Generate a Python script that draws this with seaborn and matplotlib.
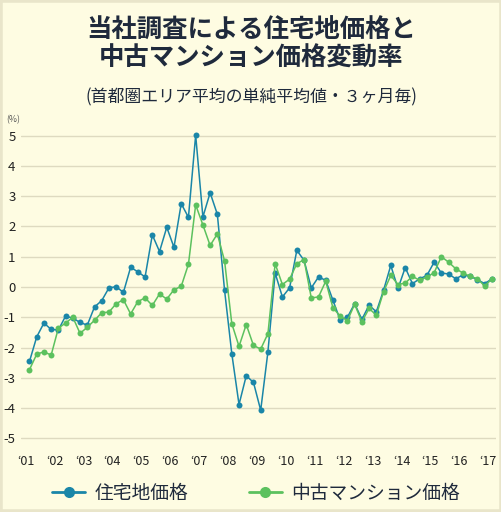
import pandas as pd
import numpy as np
import seaborn as sns
import matplotlib.pyplot as plt
from matplotlib.patches import Rectangle

# --------------------------- DATA ---------------------------
quarters = pd.period_range('2001Q1', '2017Q1', freq='Q')

land_price = [
    -2.46, -1.65, -1.19, -1.40, -1.42, -0.96, -1.03, -1.17, -1.26, -0.66,
    -0.45, -0.03, 0.01, -0.18, 0.65, 0.50, 0.33, 1.72, 1.17, 1.97,
    1.31, 2.75, 2.30, 5.01, 2.31, 3.11, 2.40, -0.11, -2.20, -3.88,
    -2.93, -3.15, -4.07, -2.14, 0.46, -0.33, -0.03, 1.21, 0.88, -0.03,
    0.33, 0.22, -0.44, -1.09, -1.00, -0.55, -1.07, -0.60, -0.82, -0.11,
    0.71, -0.05, 0.64, 0.11, 0.27, 0.38, 0.82, 0.46, 0.43, 0.27,
    0.40, 0.35, 0.24, 0.11, 0.27,
]
condo_price = [
    -2.73, -2.22, -2.14, -2.25, -1.36, -1.19, -1.00, -1.53, -1.33, -1.10,
    -0.85, -0.83, -0.55, -0.42, -0.89, -0.48, -0.36, -0.61, -0.23, -0.40,
    -0.09, 0.02, 0.75, 2.71, 2.05, 1.37, 1.75, 0.86, -1.21, -1.96,
    -1.24, -1.93, -2.05, -1.54, 0.77, 0.08, 0.26, 0.77, 0.90, -0.36,
    -0.33, 0.19, -0.69, -0.96, -1.11, -0.57, -1.15, -0.71, -0.93, -0.16,
    0.38, 0.08, 0.13, 0.35, 0.22, 0.33, 0.47, 1.00, 0.82, 0.60,
    0.46, 0.35, 0.27, 0.03, 0.27,
]
series_names = ['住宅地価格', '中古マンション価格']
tick_years = list(range(2001, 2018))
tick_labels = ['‘%02d' % (y % 100) for y in tick_years]
y_ticks = [5, 4, 3, 2, 1, 0, -1, -2, -3, -4, -5]

# --------------------------- SETTINGS ---------------------------
sns.set_theme(style='white')
plt.rcParams['font.family'] = ['Noto Sans CJK JP', 'DejaVu Sans']
bg = '#FEFCE2'
colors = ['#1A86A8', '#5CC15E']
text_dark = '#1F2A3C'
label_nudge = 0.13  # year labels sit a little left of the first quarter

df = pd.DataFrame({
    'x': [q.year + (q.quarter - 1) / 4 for q in quarters],
    series_names[0]: land_price,
    series_names[1]: condo_price,
})
df_long = df.melt(id_vars='x', var_name='series', value_name='rate')

# --------------------------- PLOT ---------------------------
fig = plt.figure(figsize=(5.02, 5.12), dpi=100)
fig.patch.set_facecolor(bg)
fig.patches.append(Rectangle((0, 0), 1, 1, transform=fig.transFigure,
                             fill=False, edgecolor='#E9E5CA', linewidth=4))

ax = fig.add_axes([0.042, 0.12, 0.946, 0.639])
ax.set_facecolor(bg)

sns.lineplot(data=df_long, x='x', y='rate', hue='series', palette=colors,
             marker='o', markersize=4.3, markeredgewidth=0, linewidth=1.1,
             ax=ax, legend=False)

ax.set_xlim(2000.71, 2017.14)
ax.set_ylim(-5.4, 5.4)
ax.set_yticks(y_ticks)
ax.set_yticklabels([str(v) for v in y_ticks], fontsize=9.5, color='#222222')
ax.set_xticks([y - label_nudge for y in tick_years])
ax.set_xticklabels(tick_labels, fontsize=9, color='#222222')
ax.tick_params(axis='y', length=0, pad=4)
ax.tick_params(axis='x', length=0, pad=3)
ax.yaxis.grid(True, color='#DEDAC0', linewidth=1)
ax.xaxis.grid(False)
for s in ax.spines.values():
    s.set_visible(False)
ax.set_xlabel('')
ax.set_ylabel('')

# --------------------------- TEXT ---------------------------
fig.text(0.5, 0.941, '当社調査による住宅地価格と', ha='center', va='center',
         fontsize=18.3, fontweight='bold', color=text_dark)
fig.text(0.5, 0.886, '中古マンション価格変動率', ha='center', va='center',
         fontsize=18.3, fontweight='bold', color=text_dark)
fig.text(0.5, 0.81, '(首都圏エリア平均の単純平均値・３ヶ月毎)', ha='center', va='center',
         fontsize=12.2, color=text_dark)
fig.text(0.012, 0.766, '(%)', ha='left', va='center', fontsize=6.3, color='#555555')

handles = [plt.Line2D([], [], color=c, marker='o', markersize=8, markeredgewidth=0,
                      linewidth=2) for c in colors]
fig.legend(handles, series_names, loc='center', bbox_to_anchor=(0.51, 0.037),
           ncol=2, frameon=False, fontsize=13.5, handlelength=1.8,
           handletextpad=0.5, columnspacing=3.2, labelcolor=text_dark)

fig.savefig('out.png', dpi=100, facecolor=bg)
